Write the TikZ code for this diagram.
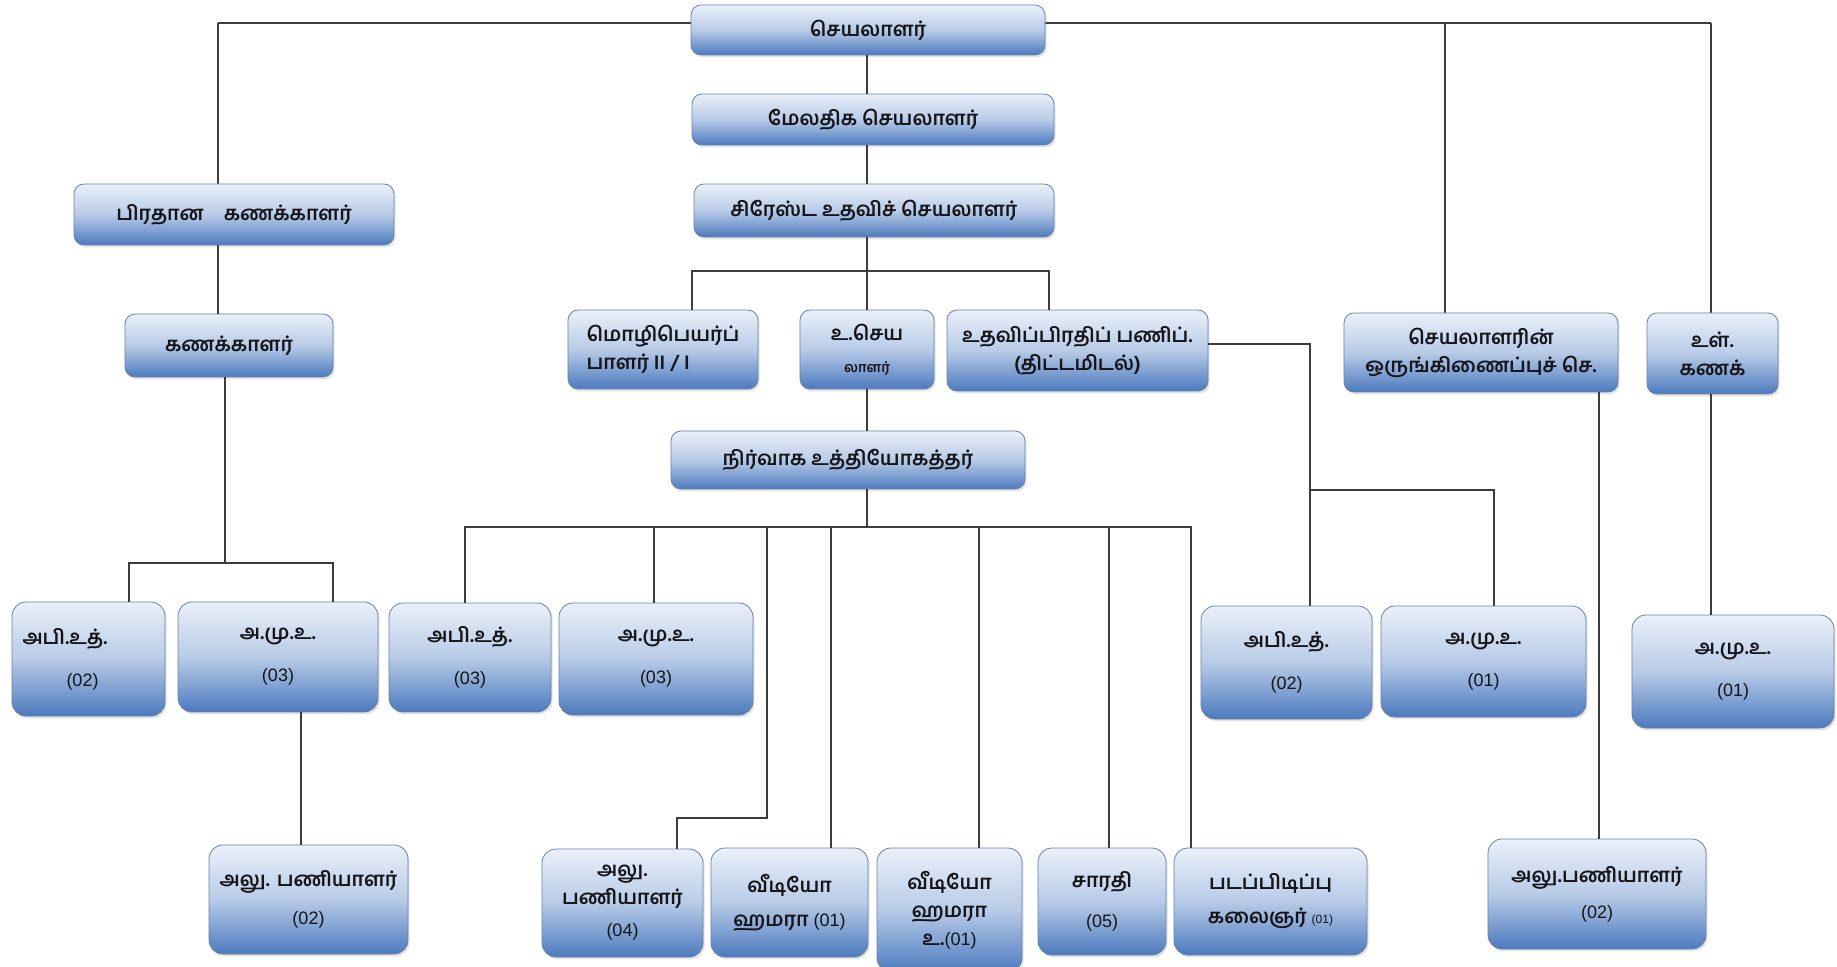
\documentclass[tikz,border=0pt]{standalone}
\usepackage{fontspec}
\newfontfamily\tam[Script=Tamil]{Hind Madurai}
\newfontfamily\lat{Liberation Sans}
\usetikzlibrary{shadows}
\definecolor{boxtop}{RGB}{234,240,249}
\definecolor{boxmid}{RGB}{184,203,231}
\definecolor{boxbot}{RGB}{76,122,190}
\definecolor{boxline}{RGB}{105,130,168}
\definecolor{lin}{RGB}{60,60,60}
\definecolor{txt}{RGB}{20,20,25}
\tikzset{
  box/.style={rounded corners=5pt, draw=boxline, line width=0.4pt,
    top color=boxtop, bottom color=boxbot, middle color=boxmid,
    align=center, inner sep=2pt, text=txt,
    font=\tam\bfseries\fontsize{10}{14}\selectfont,
    drop shadow={opacity=0.22, shadow xshift=0.8pt, shadow yshift=-1.2pt}},
  conn/.style={draw=lin, line width=0.7pt},
}
\newcommand\bx[7][]{\node[box,#1,minimum width={(#5-#3)*0.5pt},minimum height={(#6-#4)*0.5pt}] (#2) at ({(#3+#5)/2},{(#4+#6)/2}) {#7};}
\newcommand\nm[1]{{\lat\mdseries\fontsize{9}{11}\selectfont #1}}
\begin{document}
\begin{tikzpicture}[x=0.5pt,y=-0.5pt]
\fill[white] (0,0) rectangle (1837,967);
\useasboundingbox (0,0) rectangle (1837,967);
% x positions of vertical lines
\coordinate (xT) at (867,0);
\coordinate (xPK) at (218,0);
\coordinate (xSK) at (1445,0);
\coordinate (xUL) at (1711,0);
\coordinate (xMO) at (692,0);
\coordinate (xUD) at (1049,0);
\coordinate (xKA) at (225,0);
\coordinate (xA1) at (129,0);
\coordinate (xA2) at (333,0);
\coordinate (xAL) at (301,0);
\coordinate (xA3) at (465,0);
\coordinate (xA4) at (654,0);
\coordinate (xV0) at (767,0);
\coordinate (xAL4) at (677,0);
\coordinate (xV1) at (831,0);
\coordinate (xV2) at (979,0);
\coordinate (xSR) at (1109,0);
\coordinate (xPD) at (1191,0);
\coordinate (xA5) at (1310,0);
\coordinate (xA6) at (1494,0);
\coordinate (xSK2) at (1599,0);
% y positions of horizontal lines
\coordinate (yTop) at (0,23);
\coordinate (yB2) at (0,271);
\coordinate (yB3) at (0,563);
\coordinate (yB4) at (0,527);
\coordinate (yB5) at (0,818);
\coordinate (yUD) at (0,344);
\coordinate (yB6) at (0,490);

% connectors (drawn first, boxes on top)
\draw[conn] (xPK |- yTop) -- (xSK |- yTop) -- (xUL |- yTop);
\draw[conn] (xPK |- yTop) -- (xPK |- 0,184);
\draw[conn] (xSK |- yTop) -- (xSK |- 0,313);
\draw[conn] (xUL |- yTop) -- (xUL |- 0,313);

% boxes
\bx{sec}{691}{5}{1045}{55}{செயலாளர்}
\bx{mel}{692}{94}{1054}{145}{மேலதிக செயலாளர்}
\bx{sir}{694}{184}{1054}{237}{சிரேஸ்ட உதவிச் செயலாளர்}
\bx{pk}{74}{184}{394}{245}{பிரதான\quad கணக்காளர்}
\bx{ka}{125}{314}{333}{377}{கணக்காளர்}
\bx[align=left]{mo}{568}{310}{758}{389}{மொழிபெயர்ப்\\பாளர் II / I}
\bx{us}{800}{310}{934}{389}{உ.செய\\[2pt]{\fontsize{7}{8}\selectfont லாளர்}}
\bx{ud}{947}{310}{1208}{391}{உதவிப்பிரதிப் பணிப்.\\(திட்டமிடல்)}
\bx{sk}{1344}{313}{1618}{392}{செயலாளரின்\\ஒருங்கிணைப்புச் செ.}
\bx{ul}{1647}{313}{1778}{394}{உள்.\\கணக்}
\bx{nir}{671}{431}{1025}{489}{நிர்வாக உத்தியோகத்தர்}
\bx[rounded corners=7pt,align=left,text width=66pt]{a1}{12}{602}{165}{716}{அபி.உத்.\\[7pt]\hspace*{22pt}\nm{(02)}}
\bx[rounded corners=7pt]{a2}{178}{602}{378}{712}{அ.மு.உ.\\[7pt]\nm{(03)}}
\bx[rounded corners=7pt]{a3}{389}{603}{551}{712}{அபி.உத்.\\[7pt]\nm{(03)}}
\bx[rounded corners=7pt]{a4}{559}{603}{753}{715}{அ.மு.உ.\\[7pt]\nm{(03)}}
\bx[rounded corners=7pt]{a5}{1201}{606}{1372}{719}{அபி.உத்.\\[7pt]\nm{(02)}}
\bx[rounded corners=7pt]{a6}{1381}{606}{1586}{717}{அ.மு.உ.\\[7pt]\nm{(01)}}
\bx[rounded corners=7pt]{a7}{1632}{615}{1834}{728}{அ.மு.உ.\\[7pt]\nm{(01)}}
\bx[rounded corners=7pt]{alu1}{209}{845}{408}{954}{அலு. பணியாளர்\\[5pt]\nm{(02)}}
\bx[rounded corners=7pt]{alu4}{542}{849}{703}{957}{அலு.\\பணியாளர்\\[2pt]\nm{(04)}}
\bx[rounded corners=7pt]{vid1}{711}{848}{868}{957}{வீடியோ\\[3pt]ஹமரா \nm{(01)}}
\bx[rounded corners=7pt]{vid2}{877}{848}{1022}{972}{வீடியோ\\ஹமரா\\உ.\nm{(01)}}
\bx[rounded corners=7pt]{sar}{1038}{848}{1166}{955}{சாரதி\\[6pt]\nm{(05)}}
\bx[rounded corners=7pt]{pad}{1174}{848}{1367}{955}{படப்பிடிப்பு\\[3pt]கலைஞர் {\lat\mdseries\fontsize{6}{7}\selectfont (01)}}
\bx[rounded corners=7pt]{alu5}{1488}{839}{1706}{949}{அலு.பணியாளர்\\[4pt]\nm{(02)}}

% connectors between named boxes
\draw[conn] (xT |- sec.south) -- (xT |- mel.north);
\draw[conn] (xT |- mel.south) -- (xT |- sir.north);
\draw[conn] (xT |- sir.south) -- (xT |- us.north);
\draw[conn] (xMO |- mo.north) |- (xUD |- yB2) -- (xUD |- ud.north);
\draw[conn] (xPK |- pk.south) -- (xPK |- ka.north);
\draw[conn] (xKA |- ka.south) -- (xKA |- yB3);
\draw[conn] (xA1 |- a1.north) |- (xA2 |- yB3) -- (xA2 |- a2.north);
\draw[conn] (xAL |- a2.south) -- (xAL |- alu1.north);
\draw[conn] (xT |- us.south) -- (xT |- nir.north);
\draw[conn] (xT |- nir.south) -- (xT |- yB4);
\draw[conn] (xA3 |- a3.north) |- (xPD |- yB4) -- (xPD |- pad.north);
\draw[conn] (xA4 |- yB4) -- (xA4 |- a4.north);
\draw[conn] (xV0 |- yB4) |- (xAL4 |- yB5) -- (xAL4 |- alu4.north);
\draw[conn] (xV1 |- yB4) -- (xV1 |- vid1.north);
\draw[conn] (xV2 |- yB4) -- (xV2 |- vid2.north);
\draw[conn] (xSR |- yB4) -- (xSR |- sar.north);
\draw[conn] (ud.east |- yUD) -| (xA5 |- a5.north);
\draw[conn] (xA5 |- yB6) -| (xA6 |- a6.north);
\draw[conn] (xSK2 |- sk.south) -- (xSK2 |- alu5.north);
\draw[conn] (xUL |- ul.south) -- (xUL |- a7.north);
\end{tikzpicture}
\end{document}
